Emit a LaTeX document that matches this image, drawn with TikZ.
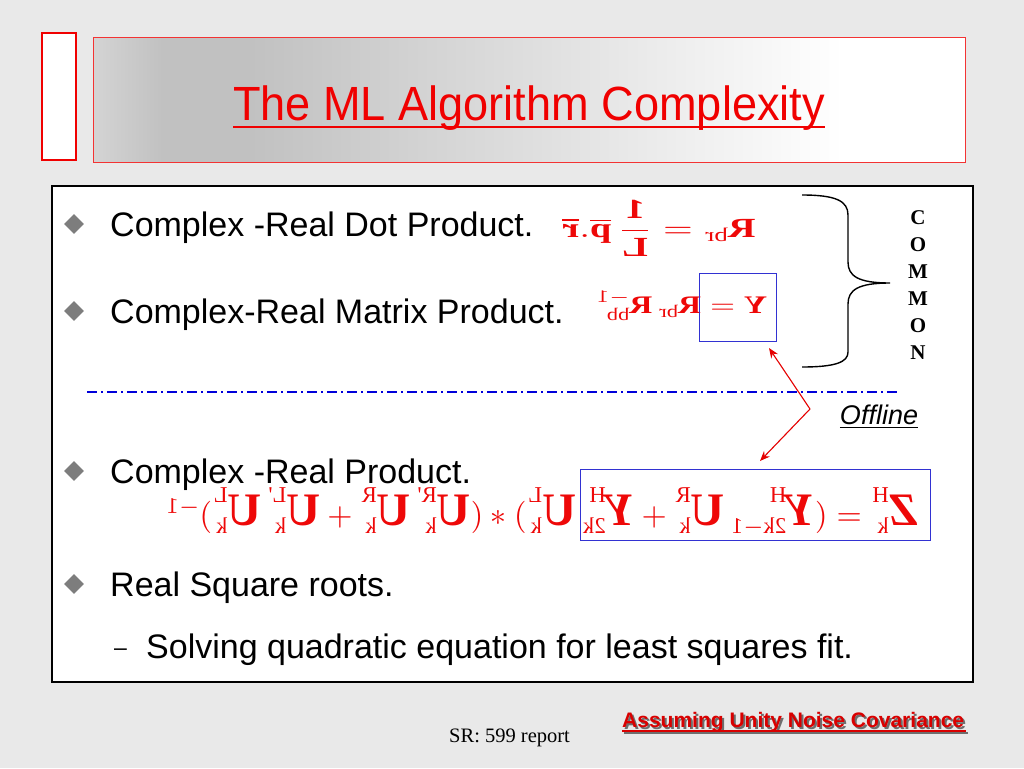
\documentclass[tikz,border=0pt]{standalone}
\usepackage{fontspec}
\usepackage{amsmath}
\usepackage{graphicx}
\setmainfont{Liberation Sans}
\newfontfamily\tnr{Liberation Serif}
\usetikzlibrary{arrows.meta,shapes.geometric}
\definecolor{bg}{RGB}{233,233,233}
\definecolor{tred}{RGB}{240,0,0}
\definecolor{fred}{RGB}{238,8,8}
\definecolor{bbox}{RGB}{50,50,210}
\definecolor{bul}{RGB}{125,125,125}
\definecolor{ga}{RGB}{212,212,212}
\definecolor{gb}{RGB}{193,193,193}
\definecolor{shadowc}{RGB}{110,110,110}
\pgfdeclarehorizontalshading{titleshade}{100bp}{color(0bp)=(ga); color(25bp)=(ga); color(29bp)=(gb); color(34bp)=(gb); color(68bp)=(white); color(100bp)=(white)}
\newcommand\mbR[1]{\text{\tnr\bfseries #1}}
\newcommand\mbL[1]{\text{\tnr\bfseries\Large #1}}
\newcommand\mbI[1]{\text{\tnr\bfseries\itshape\Large #1}}
\newcommand\msc[1]{\text{\tnr #1}}
\tikzset{
  bullet/.style={diamond, fill=bul, minimum size=20pt, inner sep=0pt},
  itemtext/.style={anchor=base west, inner sep=0pt, font=\fontsize{34}{40}\selectfont},
  formula/.style={text=fred, inner sep=0pt},
  bluebox/.style={draw=bbox, line width=1pt},
  redarrow/.style={draw=red!90!black, line width=1.1pt, -{Stealth[length=10pt,width=8pt]}},
}
\begin{document}
\begin{tikzpicture}[x=1pt,y=-1pt]
\useasboundingbox (0,0) rectangle (1024,768);
\fill[bg] (0,0) rectangle (1024,768);
% title area
\draw[tred, line width=1.5pt, fill=white] (42,33) rectangle (76,160);
\shade[shading=titleshade] (93,38) rectangle (965,162);
\draw[tred!80, line width=1pt] (93,38) rectangle (965,162);
\node[anchor=base, inner sep=0pt, text=tred, font=\fontsize{48}{56}\selectfont] (title) at (529,120) {\scalebox{0.94}[1]{The ML Algorithm Complexity}};
\draw[tred, line width=2.5pt] (233,127) -- (825,127);
% content box
\draw[black, line width=1.3pt, fill=white] (52,186) rectangle (973,682);
% bullets and text
\node[bullet] (b1) at (74,224) {};
\node[itemtext] (t1) at (110,236) {Complex -Real Dot Product.};
\node[bullet] (b2) at (74,311) {};
\node[itemtext] (t2) at (110,323) {Complex-Real Matrix Product.};
\node[bullet] (b3) at (74,471) {};
\node[itemtext] (t3) at (110,483) {Complex -Real Product.};
\node[bullet] (b4) at (74,584) {};
\node[itemtext] (t4) at (110,596) {Real Square roots.};
\node[itemtext] (d5) at (114,655) {\fontsize{23}{26}\selectfont --};
\node[itemtext] (t5) at (146,658) {Solving quadratic equation for least squares fit.};
% formulas (mirrored)
\node[formula] (f1) at (659,228) {\resizebox*{193pt}{56pt}{\reflectbox{$\mbR{R}_{\msc{br}} = \dfrac{\mbR{1}}{\mbR{L}}\,\overline{\mbR{p}}.\overline{\mbR{r}}$}}};
\node[formula] (f2) at (681,306) {\resizebox*{172pt}{30pt}{\reflectbox{$\mbR{Y} = \mbR{R}_{\msc{br}}\,\mbR{R}_{\msc{bb}}^{-1}$}}};
\node[formula] (f3) at (541,512) {\resizebox*{753pt}{48pt}{\reflectbox{$\mbI{Z}^{\msc{H}}_{\msc{k}} = (\mbI{Y}^{\msc{H}}_{\msc{2k$-$1}}\,\mbL{U}^{\msc{R}}_{\msc{k}} + \mbI{Y}^{\msc{H}}_{\msc{2k}}\,\mbL{U}^{\msc{L}}_{\msc{k}})*(\mbL{U}^{\msc{R'}}_{\msc{k}}\,\mbL{U}^{\msc{R}}_{\msc{k}} + \mbL{U}^{\msc{L'}}_{\msc{k}}\,\mbL{U}^{\msc{L}}_{\msc{k}})^{-1}$}}};
\draw[bluebox] (699,273) rectangle (776,341);
\node[inner sep=0pt] (box2) at (737.5,307) {};
\draw[bluebox] (580,469) rectangle (930,540);
% brace
\draw[black, line width=1.4pt] (802,195) .. controls (836,195) and (848,201) .. (848,215) -- (848,262) .. controls (848,276) and (858,283) .. (890,283) .. controls (858,283) and (848,290) .. (848,304) -- (848,352) .. controls (848,362) and (836,367) .. (802,367);
\node[inner sep=0pt, align=center, font=\tnr\bfseries\fontsize{21}{27}\selectfont] (common) at (918,285) {C\\O\\M\\M\\O\\N};
% dash-dot line
\draw[blue!85!black, line width=1.2pt, dash pattern=on 10pt off 4pt on 2pt off 4pt] (87,392) -- (900,392);
% arrows
\coordinate (v) at (810,409);
\coordinate (a1) at (769,348);
\coordinate (a2) at (760,461);
\draw[redarrow] (v) -- (a1);
\draw[redarrow] (v) -- (a2);
\node[anchor=base, inner sep=0pt, font=\itshape\fontsize{27}{32}\selectfont] (off) at (879,424) {\underline{Offline}};
% footer
\node[anchor=base west, inner sep=0pt, font=\tnr\fontsize{20.5}{24}\selectfont] (sr) at (449,742) {SR: 599 report};
\node[anchor=base west, inner sep=0pt, text=shadowc, font=\bfseries\fontsize{21}{25}\selectfont] (as) at (624,729) {Assuming Unity Noise Covariance};
\draw[shadowc, line width=1.5pt] (624,733) -- (968,733);
\node[anchor=base west, inner sep=0pt, text=red!85!black, font=\bfseries\fontsize{21}{25}\selectfont] (am) at (622,727) {Assuming Unity Noise Covariance};
\draw[red!85!black, line width=1.5pt] (622,731) -- (966,731);
\end{tikzpicture}
\end{document}
